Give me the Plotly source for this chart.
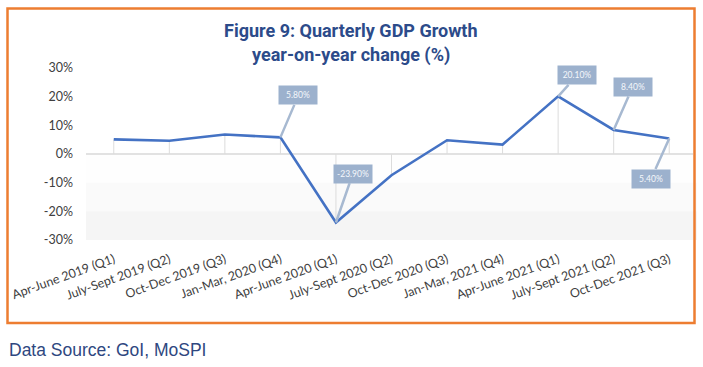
import plotly.graph_objects as go

# ---- data ----
categories = [
    "Apr-June 2019 (Q1)", "July-Sept 2019 (Q2)", "Oct-Dec 2019 (Q3)",
    "Jan-Mar, 2020 (Q4)", "Apr-June 2020 (Q1)", "July-Sept 2020 (Q2)",
    "Oct-Dec 2020 (Q3)", "Jan-Mar, 2021 (Q4)", "Apr-June 2021 (Q1)",
    "July-Sept 2021 (Q2)", "Oct-Dec 2021 (Q3)",
]
growth = [5.1, 4.6, 6.8, 5.8, -23.9, -7.4, 4.8, 3.3, 20.1, 8.4, 5.4]
labelled = [3, 4, 8, 9, 10]          # points carrying a callout
y_ticks = [30, 20, 10, 0, -10, -20, -30]
y_tick_text = ["30%", "20%", "10%", "0%", "-10%", "-20%", "-30%"]
title_lines = ["Figure 9: Quarterly GDP Growth", "year-on-year change (%)"]
source_text = "Data Source: GoI, MoSPI"

W, H = 703, 367
L, R, T, B = 86, 6, 68, 127
pw, ph = W - L - R, H - T - B

def px(x):  # pixel x -> paper
    return (x - L) / pw

def py(y):  # pixel y -> paper
    return 1 - (y - T) / ph

idx = list(range(len(categories)))

fig = go.Figure()

# drop lines from each point to the zero line
fig.add_trace(go.Scatter(
    x=idx, y=growth, mode="markers", marker=dict(size=0.1, opacity=0),
    hoverinfo="skip", showlegend=False,
    error_y=dict(type="data", symmetric=False,
                 array=[max(0, -v) for v in growth],
                 arrayminus=[max(0, v) for v in growth],
                 color="#DCDCDC", thickness=1, width=0),
))

# main line
fig.add_trace(go.Scatter(
    x=idx, y=growth, mode="lines",
    line=dict(color="#4472C4", width=2.6),
    showlegend=False,
))

shapes = []
# subtle gradient below zero
bands = [(0, -10, "#FEFEFE"), (-10, -20, "#FAFAFA"), (-20, -30, "#F5F5F5")]
for y0, y1, c in bands:
    shapes.append(dict(type="rect", xref="paper", yref="y", x0=0, x1=1,
                       y0=y0, y1=y1, fillcolor=c, line=dict(width=0),
                       layer="below"))
# zero line
shapes.append(dict(type="line", xref="paper", yref="y", x0=0, x1=px(693),
                   y0=0, y1=0, line=dict(color="#D9D9D9", width=1.5),
                   layer="below"))
# orange frame
shapes.append(dict(type="rect", xref="paper", yref="paper",
                   x0=px(7.5), x1=px(694.5), y0=py(323), y1=py(8.5),
                   line=dict(color="#ED7D31", width=2.5)))

# callouts: box-centre offsets in pixels
offsets = {3: (18, -42), 4: (17, -49), 8: (19, -21), 9: (19, -43), 10: (-18, 40)}
annotations = []
for i in labelled:
    ax, ay = offsets[i]
    annotations.append(dict(
        x=i, y=growth[i], xref="x", yref="y",
        text=f"{growth[i]:.2f}%", showarrow=True, ax=ax, ay=ay,
        arrowhead=0, arrowwidth=2.5, arrowcolor="#A7B9D1", standoff=0,
        bgcolor="#9CB1CD", borderpad=3, width=32, height=12,
        font=dict(family="Lato", size=8.5, color="#F4F7FB"),
    ))

for line, yc in zip(title_lines, [30, 55]):
    annotations.append(dict(
        text=f"<b>{line}</b>", xref="paper", yref="paper",
        x=px(351), y=py(yc), showarrow=False,
        xanchor="center", yanchor="middle",
        font=dict(family="Roboto", size=18, color="#2C4B8A"),
    ))
annotations.append(dict(
    text=source_text, xref="paper", yref="paper",
    x=px(7), y=py(350), xanchor="left", yanchor="middle", showarrow=False,
    font=dict(family="Liberation Sans", size=17.5, color="#2E4780"),
))

fig.update_layout(
    width=W, height=H, margin=dict(l=L, r=R, t=T, b=B),
    paper_bgcolor="white", plot_bgcolor="white",
    shapes=shapes, annotations=annotations,
    xaxis=dict(range=[-0.5, len(categories) - 0.5], tickmode="array",
               tickvals=idx, ticktext=categories, tickangle=-20,
               showgrid=False, zeroline=False, showline=False,
               ticklabelstandoff=9,
               tickfont=dict(family="Lato", size=12.5, color="#404040")),
    yaxis=dict(range=[-30, 30], tickmode="array", tickvals=y_ticks,
               ticktext=y_tick_text, showgrid=False, zeroline=False,
               showline=False, ticklabelstandoff=12,
               tickfont=dict(family="Lato", size=12.5, color="#404040")),
)

fig.write_html("out.html", config={"displayModeBar": False},
               post_script="document.body.style.margin='0';")
